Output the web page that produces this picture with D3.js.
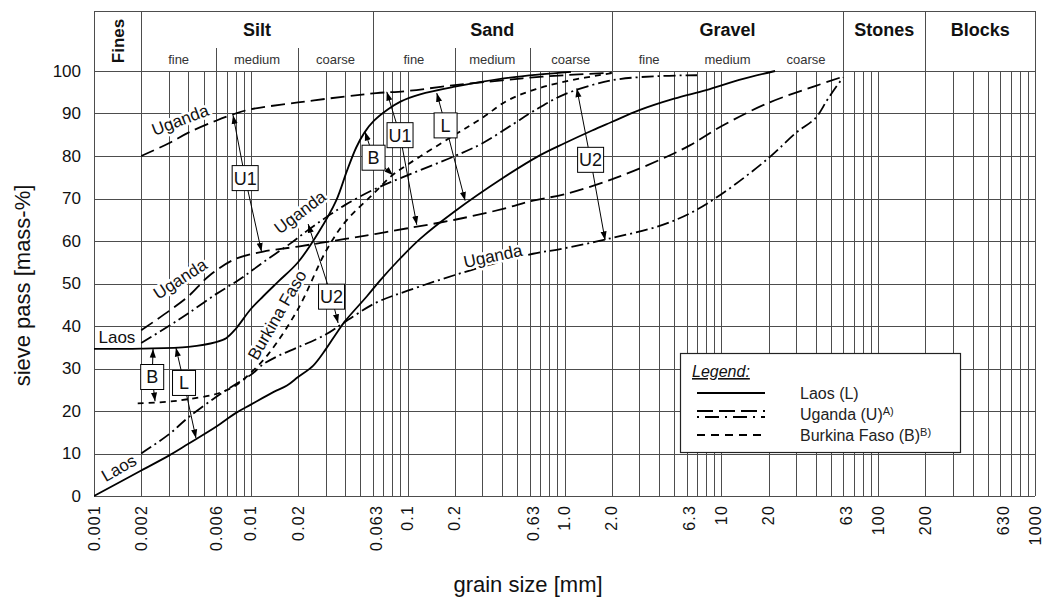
<!DOCTYPE html>
<html>
<head>
<meta charset="utf-8">
<script src="https://cdn.jsdelivr.net/npm/d3@7"></script>
<style>
  body { margin: 0; background: #fff; }
  svg { display: block; font-family: Arial, "Liberation Sans", sans-serif; }
</style>
</head>
<body>
<svg id="chart" width="1051" height="603"></svg>
<script>
// grading curves: [grain size mm, sieve pass %]
const laosUpper = [[0.001,34.6],[0.002,34.7],[0.004,35.1],[0.006,36.2],[0.007,37.2],[0.008,39.3],[0.01,44],[0.012,47],[0.015,50.5],[0.02,55],[0.027,62],[0.035,69.5],[0.041,76.5],[0.047,82],[0.053,85.5],[0.061,88.3],[0.075,91],[0.09,92.8],[0.12,94.5],[0.2,96.3],[0.4,98.2],[0.7,99.2],[1.1,99.8]];
const laosLower = [[0.001,0],[0.002,6],[0.003,9.5],[0.004,12.3],[0.006,16.3],[0.008,19.5],[0.01,21.5],[0.014,24.5],[0.017,26],[0.02,28],[0.025,30.7],[0.03,34.5],[0.035,38.2],[0.04,41.2],[0.055,47],[0.067,50.8],[0.085,55],[0.12,60.5],[0.2,67],[0.4,74.7],[0.7,80.2],[1,83],[1.5,86],[2,88],[3,90.8],[5,93.5],[8,95.5],[13,97.9],[22,100]];
const ugandaU1Upper = [[0.002,80],[0.003,83],[0.004,85.5],[0.006,88.3],[0.008,90],[0.01,91],[0.02,92.6],[0.04,94],[0.063,94.8],[0.1,95.3],[0.2,96.7],[0.4,97.8],[0.63,98.5],[1,99],[2,99.6]];
const ugandaU1Lower = [[0.002,39],[0.003,43.5],[0.004,47],[0.0055,52],[0.008,55.8],[0.012,57.5],[0.02,58.7],[0.04,60.5],[0.063,61.7],[0.1,63],[0.2,65],[0.4,67.5],[0.63,69.5],[1,71],[2,74.5],[4,79],[6.3,82.5],[10,87],[20,92.5],[40,96.5],[60,98.7]];
const ugandaU2Upper = [[0.002,36],[0.003,40],[0.004,43],[0.006,47.5],[0.0085,51],[0.012,55],[0.018,59.5],[0.023,62.5],[0.03,65.5],[0.04,68.5],[0.06,72],[0.09,74.8],[0.2,80],[0.3,83],[0.47,87.5],[0.63,90.5],[1,94.5],[2,97.8],[4,98.8],[7,99]];
const ugandaU2Lower = [[0.002,10],[0.003,14.5],[0.004,18.5],[0.006,23.3],[0.008,26.3],[0.01,28.5],[0.012,31],[0.015,33],[0.02,35],[0.03,38],[0.04,41],[0.063,45.5],[0.1,48.3],[0.2,52],[0.4,55.2],[0.63,57],[1,58.3],[2,60.7],[4,63.5],[6.3,66.5],[10,71],[20,79.5],[30,85.5],[40,89],[47,93],[54,96.3],[60,98.5]];
const burkinaLower = [[0.0019,21.8],[0.003,22.2],[0.004,22.8],[0.006,24],[0.008,26],[0.01,29],[0.013,33.5],[0.02,44],[0.03,57.5],[0.04,64.5],[0.06,71],[0.08,75.5],[0.1,78],[0.2,85],[0.3,89],[0.43,93],[0.63,95.5],[1,97.5],[2,99.5]];

// soil classes (header)
const classNames = ["Fines", "Silt", "Sand", "Gravel", "Stones", "Blocks"];
const classBounds = [0.001, 0.002, 0.06, 2, 60, 200, 1000];
const subNames = ["fine", "medium", "coarse"];
const subBounds = [[0.002, 0.006, 0.02, 0.06], [0.06, 0.2, 0.6, 2], [2, 6, 20, 60]];

// x tick labels
const xTickValues = [0.001, 0.002, 0.006, 0.01, 0.02, 0.063, 0.1, 0.2, 0.63, 1, 2, 6.3, 10, 20, 63, 100, 200, 630, 1000];
const xTickLabels = ["0.001", "0.002", "0.006", "0.01", "0.02", "0.063", "0.1", "0.2", "0.63", "1.0", "2.0", "6.3", "10", "20", "63", "100", "200", "630", "1000"];

// boxed range markers: label, box position, arrow targets
const rangeMarks = [
  { label: "U1", box: [0.0092, 74.8], to: [[0.0077, 89.6], [0.0117, 57.5]] },
  { label: "U1", box: [0.0894, 84.9], to: [[0.0736, 95.1], [0.1143, 63.8]] },
  { label: "B",  box: [0.0606, 79.6], to: [[0.0535, 85.7], [0.0807, 75.5]] },
  { label: "L",  box: [0.1745, 87.2], to: [[0.1533, 94.8], [0.2323, 69.5]] },
  { label: "U2", box: [0.0327, 46.9], to: [[0.0232, 64.0], [0.036, 40.7]] },
  { label: "U2", box: [1.467, 79.1],  to: [[1.198, 95.9], [1.815, 60.2]] },
  { label: "B",  box: [0.00235, 28],  to: [[0.00238, 34.6], [0.00245, 22.3]] },
  { label: "L",  box: [0.00375, 26.6], to: [[0.00333, 34.9], [0.00447, 13.6]] }
];

// curve names written on the chart
const curveLabels = [
  { text: "Uganda", at: [0.00354, 88.5], rot: -21 },
  { text: "Uganda", at: [0.0206, 66.8], rot: -37 },
  { text: "Uganda", at: [0.00354, 51.1], rot: -33 },
  { text: "Uganda", at: [0.35, 56.5], rot: -12 },
  { text: "Burkina Faso", at: [0.0147, 42.6], rot: -60 },
  { text: "Laos", at: [0.0014, 37.4], rot: 0 },
  { text: "Laos", at: [0.00144, 6.6], rot: -30 }
];

const svg = d3.select("#chart");
const x = d3.scaleLog().domain([0.001, 1000]).range([94, 1035]);
const y = d3.scaleLinear().domain([0, 100]).range([496, 71]);
const headTop = 11;
const gridColor = "#4d4d4d";

// grid
const grid = svg.append("g").attr("shape-rendering", "crispEdges");
grid.selectAll(".vx")
  .data(x.ticks())
  .enter().append("line")
  .attr("x1", d => Math.round(x(d)) + 0.5).attr("x2", d => Math.round(x(d)) + 0.5)
  .attr("y1", y(100)).attr("y2", y(0))
  .attr("stroke", gridColor).attr("stroke-width", 1);
grid.selectAll(".hy")
  .data(y.ticks(10))
  .enter().append("line")
  .attr("x1", x(0.001)).attr("x2", x(1000))
  .attr("y1", d => Math.round(y(d)) + 0.5).attr("y2", d => Math.round(y(d)) + 0.5)
  .attr("stroke", gridColor).attr("stroke-width", 1);

// header
const head = svg.append("g").attr("shape-rendering", "crispEdges");
head.append("rect")
  .attr("x", x(0.001) + 0.5).attr("y", headTop + 0.5)
  .attr("width", x(1000) - x(0.001)).attr("height", y(100) - headTop)
  .attr("fill", "none").attr("stroke", gridColor);
head.selectAll(".cb")
  .data(classBounds.slice(1, -1))
  .enter().append("line")
  .attr("x1", d => Math.round(x(d)) + 0.5).attr("x2", d => Math.round(x(d)) + 0.5)
  .attr("y1", headTop).attr("y2", y(100))
  .attr("stroke", gridColor);
// sub dividers only for silt and sand
subBounds.slice(0, 2).forEach(b => {
  head.selectAll(null)
    .data(b.slice(1, 3))
    .enter().append("line")
    .attr("x1", d => Math.round(x(d)) + 0.5).attr("x2", d => Math.round(x(d)) + 0.5)
    .attr("y1", 48).attr("y2", y(100))
    .attr("stroke", gridColor);
});

classNames.forEach((name, i) => {
  const cx = (x(classBounds[i]) + x(classBounds[i + 1])) / 2;
  if (i === 0) {
    svg.append("text")
      .attr("transform", `translate(${cx + 6},${(headTop + y(100)) / 2}) rotate(-90)`)
      .attr("text-anchor", "middle")
      .attr("font-size", 17).attr("font-weight", "bold").attr("fill", "#111")
      .text(name);
  } else {
    svg.append("text")
      .attr("x", cx).attr("y", 36)
      .attr("text-anchor", "middle")
      .attr("font-size", 18).attr("font-weight", "bold").attr("fill", "#111")
      .text(name);
  }
});
subBounds.forEach(b => {
  subNames.forEach((s, j) => {
    svg.append("text")
      .attr("x", (x(b[j]) + x(b[j + 1])) / 2).attr("y", 64)
      .attr("text-anchor", "middle")
      .attr("font-size", 13).attr("fill", "#333")
      .text(s);
  });
});

// y axis
svg.append("g")
  .attr("transform", `translate(${x(0.001)},0)`)
  .call(d3.axisLeft(y).ticks(10).tickSize(0).tickPadding(13))
  .call(g => g.select(".domain").remove())
  .call(g => g.selectAll("text")
    .attr("font-size", 17).attr("fill", "#111")
    .attr("font-family", "Arial, 'Liberation Sans', sans-serif"));

svg.append("text")
  .attr("transform", `translate(30,${(y(0) + y(100)) / 2 + 2}) rotate(-90)`)
  .attr("text-anchor", "middle")
  .attr("font-size", 22).attr("fill", "#111")
  .text("sieve pass [mass-%]");

// x tick labels
svg.selectAll(".xl")
  .data(xTickValues)
  .enter().append("text")
  .attr("transform", d => `translate(${x(d)},505) rotate(-90)`)
  .attr("text-anchor", "end")
  .attr("dy", "0.35em")
  .attr("font-size", 16).attr("fill", "#111")
  .attr("letter-spacing", 1.2)
  .text((d, i) => xTickLabels[i]);

svg.append("text")
  .attr("x", 528).attr("y", 592)
  .attr("text-anchor", "middle")
  .attr("font-size", 22).attr("fill", "#111")
  .text("grain size [mm]");

// curves
svg.append("clipPath").attr("id", "plotclip")
  .append("rect").attr("x", x(0.001)).attr("y", y(100) - 1)
  .attr("width", x(1000) - x(0.001)).attr("height", y(0) - y(100) + 2);

const line = d3.line()
  .x(d => x(d[0])).y(d => y(d[1]))
  .curve(d3.curveCatmullRom.alpha(0.5));

const curves = [
  { data: laosUpper, dash: null },
  { data: laosLower, dash: null },
  { data: ugandaU1Upper, dash: "14,6" },
  { data: ugandaU1Lower, dash: "14,6" },
  { data: ugandaU2Upper, dash: "12,4,2,4" },
  { data: ugandaU2Lower, dash: "12,4,2,4" },
  { data: burkinaLower, dash: "6,5" }
];

const cg = svg.append("g").attr("clip-path", "url(#plotclip)");
cg.selectAll("path")
  .data(curves)
  .enter().append("path")
  .attr("d", d => line(d.data))
  .attr("fill", "none")
  .attr("stroke", "#000")
  .attr("stroke-width", 1.8)
  .attr("stroke-dasharray", d => d.dash);

// curve labels
svg.selectAll(".cl")
  .data(curveLabels)
  .enter().append("text")
  .attr("transform", d => `translate(${x(d.at[0])},${y(d.at[1])}) rotate(${d.rot})`)
  .attr("text-anchor", "middle")
  .attr("dy", "0.35em")
  .attr("font-size", 17).attr("fill", "#111")
  .attr("stroke", "#fff").attr("stroke-width", 5).attr("stroke-linejoin", "round")
  .attr("paint-order", "stroke")
  .text(d => d.text);

// arrows + boxes
svg.append("defs").append("marker")
  .attr("id", "arrow")
  .attr("viewBox", "0 -4 10 8")
  .attr("refX", 10).attr("refY", 0)
  .attr("markerWidth", 9).attr("markerHeight", 7)
  .attr("markerUnits", "userSpaceOnUse")
  .attr("orient", "auto")
  .append("path").attr("d", "M0,-3.5L10,0L0,3.5Z").attr("fill", "#000");

const marks = svg.append("g");
rangeMarks.forEach(m => {
  const bx = x(m.box[0]), by = y(m.box[1]);
  m.to.forEach(t => {
    marks.append("line")
      .attr("x1", bx).attr("y1", by)
      .attr("x2", x(t[0])).attr("y2", y(t[1]))
      .attr("stroke", "#000").attr("stroke-width", 1)
      .attr("marker-end", "url(#arrow)");
  });
  const w = m.label.length > 1 ? 26 : 23;
  marks.append("rect")
    .attr("x", bx - w / 2).attr("y", by - 12.5)
    .attr("width", w).attr("height", 25)
    .attr("fill", "#fff").attr("stroke", "#000").attr("stroke-width", 1);
  marks.append("text")
    .attr("x", bx).attr("y", by).attr("dy", "0.36em")
    .attr("text-anchor", "middle")
    .attr("font-size", 18).attr("fill", "#111")
    .text(m.label);
});

// legend
const lg = svg.append("g").attr("transform", "translate(680,353)");
lg.append("rect").attr("x", 0.5).attr("y", 0.5).attr("width", 280).attr("height", 99)
  .attr("fill", "#fff").attr("stroke", "#222").attr("stroke-width", 1.2);
lg.append("text").attr("x", 12).attr("y", 24)
  .attr("font-size", 16).attr("font-style", "italic").attr("fill", "#111")
  .attr("text-decoration", "underline")
  .text("Legend:");
const legendRows = [
  { y: 40, dashes: [{ dy: 0, dash: null }], label: "Laos (L)", sup: "" },
  { y: 61, dashes: [{ dy: -3, dash: "16,6" }, { dy: 3, dash: "2,6,14,6" }], label: "Uganda (U)", sup: "A)" },
  { y: 82, dashes: [{ dy: 0, dash: "8,6" }], label: "Burkina Faso (B)", sup: "B)" }
];
legendRows.forEach(r => {
  r.dashes.forEach(s => {
    lg.append("line")
      .attr("x1", 17).attr("x2", 85)
      .attr("y1", r.y + s.dy).attr("y2", r.y + s.dy)
      .attr("stroke", "#000").attr("stroke-width", 1.8)
      .attr("stroke-dasharray", s.dash);
  });
  const t = lg.append("text").attr("x", 120).attr("y", r.y).attr("dy", "0.35em")
    .attr("font-size", 16).attr("fill", "#222").text(r.label);
  if (r.sup) {
    t.append("tspan").attr("dy", "-0.4em").attr("font-size", 11).text(r.sup);
  }
});
</script>
</body>
</html>
